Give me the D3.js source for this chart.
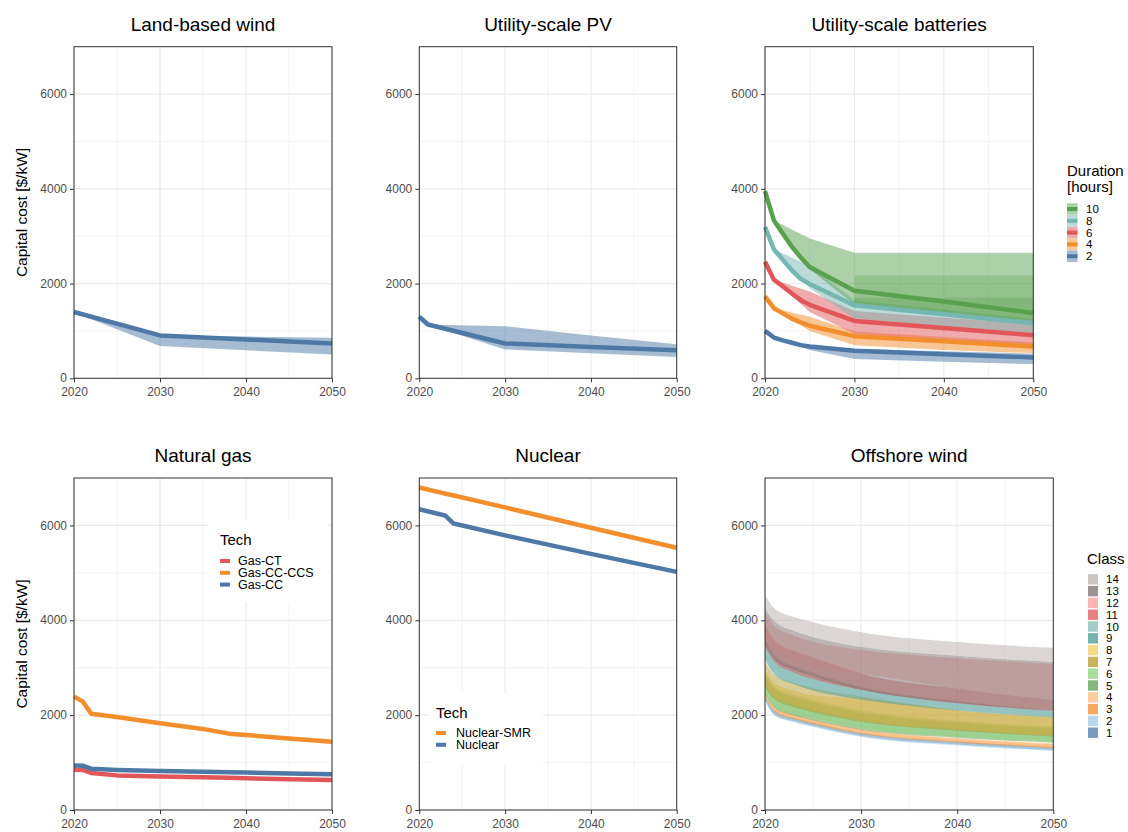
<!DOCTYPE html>
<html>
<head>
<meta charset="utf-8">
<script src="https://cdn.jsdelivr.net/npm/d3@7"></script>
<style>
body { margin: 0; background: #fff; }
text { font-family: "Liberation Sans", Arial, sans-serif; }
</style>
</head>
<body>
<svg id="chart" width="1128" height="832"></svg>
<script>
// ---- data ----
const xTicks = [2020, 2030, 2040, 2050]
const yTicks = [0, 2000, 4000, 6000]

// Land-based wind
const windYears = [2020, 2030, 2040, 2050]
const windMid = [1400, 905, 820, 735]
const windLo = [1390, 680, 590, 505]
const windHi = [1400, 910, 880, 855]

// Utility-scale PV
const pvYears = [2020, 2021, 2030, 2040, 2050]
const pvMid = [1300, 1135, 735, 660, 590]
const pvRibbonYears = [2021, 2030, 2040, 2050]
const pvLo = [1130, 610, 530, 450]
const pvHi = [1135, 1100, 905, 720]

// Utility-scale batteries
const durations = ['10', '8', '6', '4', '2']
const batYears = [2020, 2021, 2022, 2023, 2024, 2025, 2030, 2040, 2050]
const bat2 = [1000, 860, 800, 750, 700, 670, 580, 510, 440]
const bat4 = [1730, 1480, 1370, 1260, 1180, 1110, 890, 780, 670]
const bat6 = [2460, 2080, 1940, 1790, 1650, 1550, 1210, 1060, 910]
const bat8 = [3200, 2720, 2500, 2280, 2100, 1990, 1540, 1350, 1160]
const bat10 = [3950, 3330, 3050, 2780, 2550, 2350, 1850, 1620, 1380]
const batRibbonYears = [2021, 2025, 2030, 2040, 2050]
const bat2Lo = [860, 600, 410, 350, 300]
const bat2Hi = [860, 700, 625, 570, 520]
const bat4Lo = [1480, 1000, 700, 600, 530]
const bat4Hi = [1480, 1300, 990, 870, 760]
const bat6Lo = [2080, 1400, 940, 780, 640]
const bat6Hi = [2080, 1830, 1420, 1280, 1150]
const bat8Lo = [2720, 1900, 1260, 1100, 950]
const bat8Hi = [2720, 2380, 1640, 1450, 1250]
const bat10Lo = [3330, 2300, 1560, 1350, 1150]
const bat10Hi = [3330, 2950, 2650, 2650, 2650]
const bat10InnerYears = [2030, 2040, 2050]
const bat10MidLo = [1560, 1350, 1150]
const bat10MidHi = [2170, 2170, 2170]
const bat10CoreLo = [1560, 1350, 1150]
const bat10CoreHi = [1700, 1700, 1700]

// Natural gas
const gasTechs = ['Gas-CT', 'Gas-CC-CCS', 'Gas-CC']
const gasYears = [2020, 2021, 2022, 2025, 2030, 2035, 2038, 2040, 2045, 2050]
const gasCT = [850, 845, 780, 730, 705, 690, 680, 670, 650, 635]
const gasCCS = [2390, 2290, 2030, 1960, 1830, 1710, 1610, 1580, 1510, 1440]
const gasCC = [940, 935, 870, 845, 820, 805, 795, 790, 770, 755]

// Nuclear
const nucTechs = ['Nuclear-SMR', 'Nuclear']
const nucYears = [2020, 2023, 2024, 2030, 2040, 2050]
const nucSMR = [6800, 6670, 6630, 6380, 5950, 5530]
const nucConv = [6340, 6210, 6040, 5790, 5400, 5020]

// Offshore wind (ribbon per class)
const offClasses = ['1', '2', '3', '4', '5', '6', '7', '8', '9', '10', '11', '12', '13', '14']
const offDrawOrder = ['1', '2', '3', '4', '5', '6', '8', '7', '9', '10', '11', '12', '13', '14']
const offYears = [2020, 2021, 2023, 2025, 2030, 2040, 2050]
const offLo = [
  [2330, 2010, 1870, 1770, 1560, 1380, 1260],
  [2300, 1990, 1850, 1750, 1540, 1360, 1245],
  [2380, 2060, 1910, 1810, 1600, 1420, 1300],
  [2400, 2080, 1930, 1830, 1620, 1440, 1320],
  [2450, 2150, 1990, 1890, 1690, 1520, 1420],
  [2500, 2200, 2040, 1940, 1730, 1550, 1440],
  [2600, 2330, 2170, 2060, 1860, 1670, 1550],
  [2650, 2380, 2220, 2110, 1890, 1700, 1580],
  [3150, 2850, 2650, 2520, 2330, 2100, 1950],
  [3200, 2880, 2680, 2550, 2360, 2120, 1970],
  [3450, 3120, 2900, 2760, 2530, 2250, 2090],
  [3700, 3380, 3160, 3020, 2880, 2560, 2320],
  [3500, 3180, 2960, 2820, 2540, 2260, 2100],
  [4250, 3980, 3780, 3650, 3440, 3250, 3120]
]
const offHi = [
  [2420, 2100, 1950, 1850, 1630, 1450, 1330],
  [2400, 2080, 1930, 1830, 1610, 1430, 1320],
  [2480, 2150, 2000, 1900, 1690, 1500, 1390],
  [2500, 2180, 2030, 1920, 1710, 1520, 1410],
  [2850, 2550, 2380, 2270, 2050, 1840, 1720],
  [2900, 2600, 2430, 2320, 2100, 1880, 1760],
  [3120, 2850, 2680, 2570, 2400, 2110, 1960],
  [2950, 2680, 2520, 2420, 2350, 2100, 1950],
  [3550, 3220, 3000, 2860, 2570, 2280, 2090],
  [3600, 3260, 3040, 2900, 2600, 2300, 2100],
  [3900, 3580, 3360, 3220, 2880, 2560, 2320],
  [4150, 3880, 3680, 3550, 3380, 3200, 3080],
  [4250, 3980, 3780, 3650, 3440, 3250, 3120],
  [4530, 4250, 4070, 3960, 3750, 3540, 3420]
]

// ---- colours ----
const blue = '#4E79A7', orange = '#F28E2B', red = '#E15759', teal = '#76B7B2', green = '#59A14F'
const durColor = {'10': green, '8': teal, '6': red, '4': orange, '2': blue}
const offColors = ['#4E79A7', '#A0CBE8', '#F28E2B', '#FFBE7D', '#59A14F', '#8CD17D', '#B6992D',
  '#F1CE63', '#499894', '#86BCB6', '#E15759', '#FF9D9A', '#79706E', '#BAB0AC']

const svg = d3.select('#chart')
const LW = 4.5

function panel(left, right, top, bottom, title, yTitle) {
  const x = d3.scaleLinear().domain([2020, 2050]).range([left, right])
  const y = d3.scaleLinear().domain([0, 7000]).range([bottom, top])
  const g = svg.append('g')

  // grid
  g.selectAll('.gminx').data([2025, 2035, 2045]).join('line')
    .attr('x1', d => x(d)).attr('x2', d => x(d)).attr('y1', top).attr('y2', bottom)
    .attr('stroke', '#EBEBEB').attr('stroke-width', 0.6)
  g.selectAll('.gminy').data([1000, 3000, 5000]).join('line')
    .attr('y1', d => y(d)).attr('y2', d => y(d)).attr('x1', left).attr('x2', right)
    .attr('stroke', '#EBEBEB').attr('stroke-width', 0.6)
  g.selectAll('.gmajx').data(xTicks).join('line')
    .attr('x1', d => x(d)).attr('x2', d => x(d)).attr('y1', top).attr('y2', bottom)
    .attr('stroke', '#EBEBEB').attr('stroke-width', 1.2)
  g.selectAll('.gmajy').data(yTicks).join('line')
    .attr('y1', d => y(d)).attr('y2', d => y(d)).attr('x1', left).attr('x2', right)
    .attr('stroke', '#EBEBEB').attr('stroke-width', 1.2)

  const marks = g.append('g')

  // axes
  const ax = g.append('g').attr('transform', `translate(0,${bottom})`)
    .call(d3.axisBottom(x).tickValues(xTicks).tickFormat(d3.format('d')).tickSize(4).tickPadding(5))
  const ay = g.append('g').attr('transform', `translate(${left},0)`)
    .call(d3.axisLeft(y).tickValues(yTicks).tickFormat(d3.format('d')).tickSize(4).tickPadding(3))
  ;[ax, ay].forEach(a => {
    a.select('.domain').remove()
    a.selectAll('line').attr('stroke', '#333').attr('stroke-width', 1)
    a.selectAll('text').attr('fill', '#4D4D4D').style('font-size', '12px')
      .style('font-family', '"Liberation Sans", Arial, sans-serif')
  })
  ay.selectAll('text').attr('dy', '0.3em')

  g.append('rect').attr('x', left).attr('y', top).attr('width', right - left).attr('height', bottom - top)
    .attr('fill', 'none').attr('stroke', '#333').attr('stroke-width', 1)

  g.append('text').attr('x', (left + right) / 2).attr('y', top - 16)
    .attr('text-anchor', 'middle').style('font-size', '19px').attr('fill', '#000').text(title)

  if (yTitle) {
    g.append('text').attr('transform', `translate(27,${(top + bottom) / 2}) rotate(-90)`)
      .attr('text-anchor', 'middle').style('font-size', '15.5px').attr('fill', '#000').text(yTitle)
  }
  return {marks, x, y}
}

function ribbon(p, years, lo, hi, color, opacity, curve) {
  const area = d3.area().x((d, i) => p.x(years[i])).y0((d, i) => p.y(lo[i])).y1((d, i) => p.y(hi[i]))
    .curve(curve || d3.curveLinear)
  p.marks.append('path').datum(years).attr('d', area).attr('fill', color).attr('fill-opacity', opacity)
}

function line(p, years, vals, color) {
  const ln = d3.line().x((d, i) => p.x(years[i])).y((d, i) => p.y(vals[i]))
  p.marks.append('path').datum(years).attr('d', ln).attr('fill', 'none')
    .attr('stroke', color).attr('stroke-width', LW).attr('stroke-linejoin', 'round')
}

const yLab = 'Capital cost [$/kW]'

// Land-based wind
const p1 = panel(74, 332, 46.7, 378.3, 'Land-based wind', yLab)
ribbon(p1, windYears, windLo, windHi, blue, 0.5)
line(p1, windYears, windMid, blue)

// Utility-scale PV
const p2 = panel(419.3, 676.7, 46.7, 378.3, 'Utility-scale PV', false)
ribbon(p2, pvRibbonYears, pvLo, pvHi, blue, 0.5)
line(p2, pvYears, pvMid, blue)

// Utility-scale batteries
const p3 = panel(765, 1033.3, 46.7, 378.3, 'Utility-scale batteries', false)
ribbon(p3, batRibbonYears, bat2Lo, bat2Hi, blue, 0.5)
ribbon(p3, batRibbonYears, bat4Lo, bat4Hi, orange, 0.5)
ribbon(p3, batRibbonYears, bat6Lo, bat6Hi, red, 0.5)
ribbon(p3, batRibbonYears, bat8Lo, bat8Hi, teal, 0.5)
ribbon(p3, batRibbonYears, bat10Lo, bat10Hi, green, 0.5)
ribbon(p3, bat10InnerYears, bat10MidLo, bat10MidHi, green, 0.3)
ribbon(p3, bat10InnerYears, bat10CoreLo, bat10CoreHi, green, 0.3)
line(p3, batYears, bat2, blue)
line(p3, batYears, bat4, orange)
line(p3, batYears, bat6, red)
line(p3, batYears, bat8, teal)
line(p3, batYears, bat10, green)

// batteries legend
const lg3 = svg.append('g')
lg3.append('text').attr('x', 1067).attr('y', 176).style('font-size', '15px').text('Duration')
lg3.append('text').attr('x', 1067).attr('y', 192).style('font-size', '15px').text('[hours]')
durations.forEach((d, i) => {
  const cy = 209 + i * 11.8
  lg3.append('rect').attr('x', 1067).attr('y', cy - 5.8).attr('width', 10.5).attr('height', 11.6)
    .attr('fill', durColor[d]).attr('fill-opacity', 0.5)
  lg3.append('line').attr('x1', 1067).attr('x2', 1077.5).attr('y1', cy).attr('y2', cy)
    .attr('stroke', durColor[d]).attr('stroke-width', 4)
  lg3.append('text').attr('x', 1086).attr('y', cy).attr('dy', '0.35em').style('font-size', '11.5px').text(d)
})

// Natural gas
const p4 = panel(74, 332, 478, 810, 'Natural gas', yLab)
line(p4, gasYears, gasCT, red)
line(p4, gasYears, gasCCS, orange)
line(p4, gasYears, gasCC, blue)
const gasColor = {'Gas-CT': red, 'Gas-CC-CCS': orange, 'Gas-CC': blue}
const lg4 = svg.append('g')
lg4.append('rect').attr('x', 208).attr('y', 520).attr('width', 120).attr('height', 82).attr('fill', '#fff')
lg4.append('text').attr('x', 220).attr('y', 545).style('font-size', '15px').text('Tech')
gasTechs.forEach((t, i) => {
  const cy = 561 + i * 11.8
  lg4.append('line').attr('x1', 220).attr('x2', 230).attr('y1', cy).attr('y2', cy)
    .attr('stroke', gasColor[t]).attr('stroke-width', 4)
  lg4.append('text').attr('x', 238).attr('y', cy).attr('dy', '0.35em').style('font-size', '12.5px').text(t)
})

// Nuclear
const p5 = panel(419.3, 676.7, 478, 810, 'Nuclear', false)
line(p5, nucYears, nucSMR, orange)
line(p5, nucYears, nucConv, blue)
const nucColor = {'Nuclear-SMR': orange, 'Nuclear': blue}
const lg5 = svg.append('g')
lg5.append('rect').attr('x', 429).attr('y', 693).attr('width', 114).attr('height', 72).attr('fill', '#fff')
lg5.append('text').attr('x', 436).attr('y', 718).style('font-size', '15px').text('Tech')
nucTechs.forEach((t, i) => {
  const cy = 733 + i * 11.8
  lg5.append('line').attr('x1', 436).attr('x2', 446).attr('y1', cy).attr('y2', cy)
    .attr('stroke', nucColor[t]).attr('stroke-width', 4)
  lg5.append('text').attr('x', 456).attr('y', cy).attr('dy', '0.35em').style('font-size', '12.5px').text(t)
})

// Offshore wind
const p6 = panel(765, 1053.3, 478, 810, 'Offshore wind', false)
offDrawOrder.forEach(c => {
  const i = offClasses.indexOf(c)
  ribbon(p6, offYears, offLo[i], offHi[i], offColors[i], 0.5, d3.curveMonotoneX)
})
const lg6 = svg.append('g')
lg6.append('text').attr('x', 1087).attr('y', 564).style('font-size', '15px').text('Class')
offClasses.slice().reverse().forEach((c, i) => {
  const cy = 579.3 + i * 11.8
  const ci = offClasses.indexOf(c)
  lg6.append('rect').attr('x', 1088).attr('y', cy - 5.2).attr('width', 10).attr('height', 10.4)
    .attr('fill', offColors[ci]).attr('fill-opacity', 0.75)
  lg6.append('text').attr('x', 1106).attr('y', cy).attr('dy', '0.35em').style('font-size', '11.5px').text(c)
})
</script>
</body>
</html>
